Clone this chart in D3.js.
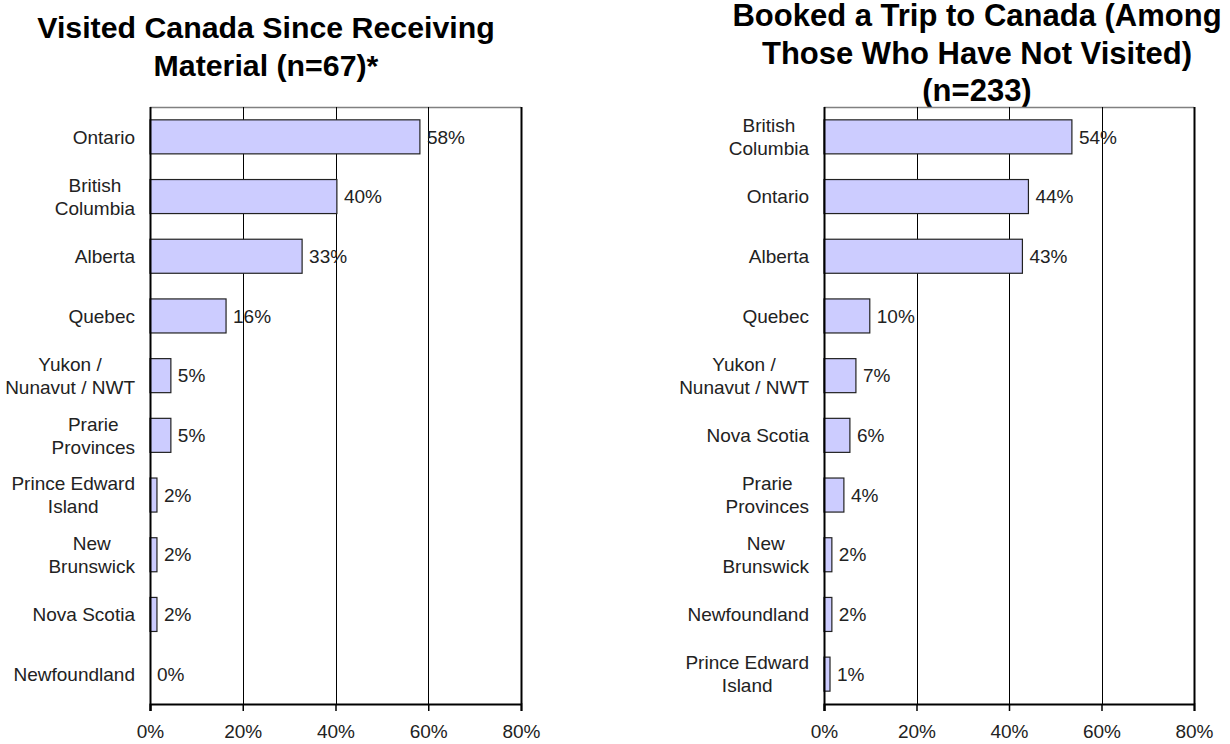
<!DOCTYPE html>
<html>
<head>
<meta charset="utf-8">
<script src="https://cdn.jsdelivr.net/npm/d3@7"></script>
<style>
  html, body { margin: 0; padding: 0; background: #fff; }
  svg { display: block; font-family: Arial, "Liberation Sans", sans-serif; }
</style>
</head>
<body>
<svg id="chart" width="1230" height="744"></svg>
<script>
// ==================== DATA ====================
const visitedTitle = ['Visited Canada Since Receiving', 'Material (n=67)*'];
const visitedCategories = [
  'Ontario', 'British\nColumbia', 'Alberta', 'Quebec', 'Yukon /\nNunavut / NWT',
  'Prarie\nProvinces', 'Prince Edward\nIsland', 'New\nBrunswick', 'Nova Scotia', 'Newfoundland'
];
const visitedValues = [58.2, 40.3, 32.8, 16.4, 4.5, 4.5, 1.5, 1.5, 1.5, 0];

const bookedTitle = ['Booked a Trip to Canada (Among', 'Those Who Have Not Visited)', '(n=233)'];
const bookedCategories = [
  'British\nColumbia', 'Ontario', 'Alberta', 'Quebec', 'Yukon /\nNunavut / NWT',
  'Nova Scotia', 'Prarie\nProvinces', 'New\nBrunswick', 'Newfoundland', 'Prince Edward\nIsland'
];
const bookedValues = [53.6, 44.2, 42.9, 9.9, 6.9, 5.6, 4.3, 1.7, 1.7, 1.3];

const xTicks = [0, 20, 40, 60, 80];

// ==================== DRAW ====================
const svg = d3.select('#chart');

function drawPanel({ title, titleX, titleBaseline, titleSize, categories, values, left, right }) {
  const top = 107, bottom = 704;

  const x = d3.scaleLinear().domain([0, 80]).range([left, right]);
  const y = d3.scaleBand()
    .domain(categories)
    .range([top, bottom])
    .paddingInner(0.43)
    .paddingOuter(0.215);

  const g = svg.append('g');

  // title
  g.append('text')
    .attr('text-anchor', 'middle')
    .attr('font-weight', 'bold')
    .attr('font-size', titleSize)
    .attr('fill', '#000')
    .selectAll('tspan')
    .data(title)
    .enter()
    .append('tspan')
    .attr('x', titleX)
    .attr('y', (d, i) => titleBaseline + i * 37.5)
    .text(d => d);

  // plot frame (top border gray)
  g.append('line')
    .attr('x1', left).attr('x2', right)
    .attr('y1', top + 0.5).attr('y2', top + 0.5)
    .attr('stroke', '#808080').attr('stroke-width', 1.5);

  // vertical gridlines
  g.selectAll('.grid')
    .data(xTicks.slice(1))
    .enter()
    .append('line')
    .attr('class', 'grid')
    .attr('x1', d => Math.round(x(d)) + 0.5)
    .attr('x2', d => Math.round(x(d)) + 0.5)
    .attr('y1', top)
    .attr('y2', bottom)
    .attr('stroke', '#000')
    .attr('stroke-width', d => d === 80 ? 2 : 1);

  // bars
  g.selectAll('.bar')
    .data(categories)
    .enter()
    .append('rect')
    .attr('class', 'bar')
    .attr('x', x(0))
    .attr('y', d => y(d))
    .attr('width', (d, i) => x(values[i]) - x(0))
    .attr('height', y.bandwidth())
    .attr('fill', '#ccccff')
    .attr('stroke', '#222')
    .attr('stroke-width', 1.2)
    .attr('display', (d, i) => values[i] > 0 ? null : 'none');

  // value labels
  g.selectAll('.val')
    .data(categories)
    .enter()
    .append('text')
    .attr('class', 'val')
    .attr('x', (d, i) => x(values[i]) + 7)
    .attr('y', d => y(d) + y.bandwidth() / 2)
    .attr('dy', '0.35em')
    .attr('font-size', 19)
    .attr('fill', '#222')
    .text((d, i) => Math.round(values[i]) + '%');

  // category labels: lines centered, block right-aligned
  g.selectAll('.cat')
    .data(categories)
    .enter()
    .append('text')
    .attr('class', 'cat')
    .attr('font-size', 19)
    .attr('fill', '#222')
    .attr('text-anchor', 'middle')
    .each(function (d) {
      const lines = d.split('\n');
      const t = d3.select(this);
      const cy = y(d) + y.bandwidth() / 2;
      lines.forEach((line, i) => {
        t.append('tspan')
          .attr('y', cy + (i - (lines.length - 1) / 2) * 23)
          .attr('dy', '0.35em')
          .text(line);
      });
      const widths = t.selectAll('tspan').nodes().map(n => n.getComputedTextLength());
      const cx = left - 15 - d3.max(widths) / 2;
      t.selectAll('tspan').attr('x', cx);
    });

  // axes lines
  g.append('line')
    .attr('x1', left + 0.5).attr('x2', left + 0.5)
    .attr('y1', top).attr('y2', bottom + 7)
    .attr('stroke', '#000').attr('stroke-width', 2);

  const xAxis = g.append('g')
    .attr('transform', `translate(0,${bottom})`)
    .call(d3.axisBottom(x).tickValues(xTicks).tickSize(7).tickPadding(14).tickFormat(d => d + '%'));
  xAxis.select('.domain').attr('stroke', '#000').attr('stroke-width', 2);
  xAxis.selectAll('.tick line').attr('stroke', '#000').attr('stroke-width', 1.5);
  xAxis.selectAll('.tick text')
    .attr('font-size', 19)
    .attr('font-family', 'Arial, "Liberation Sans", sans-serif')
    .attr('fill', '#222');
}

drawPanel({
  title: visitedTitle, titleX: 266, titleBaseline: 38, titleSize: 30.3,
  categories: visitedCategories, values: visitedValues,
  left: 150, right: 521
});

drawPanel({
  title: bookedTitle, titleX: 977, titleBaseline: 26, titleSize: 31,
  categories: bookedCategories, values: bookedValues,
  left: 824, right: 1194
});
</script>
</body>
</html>
